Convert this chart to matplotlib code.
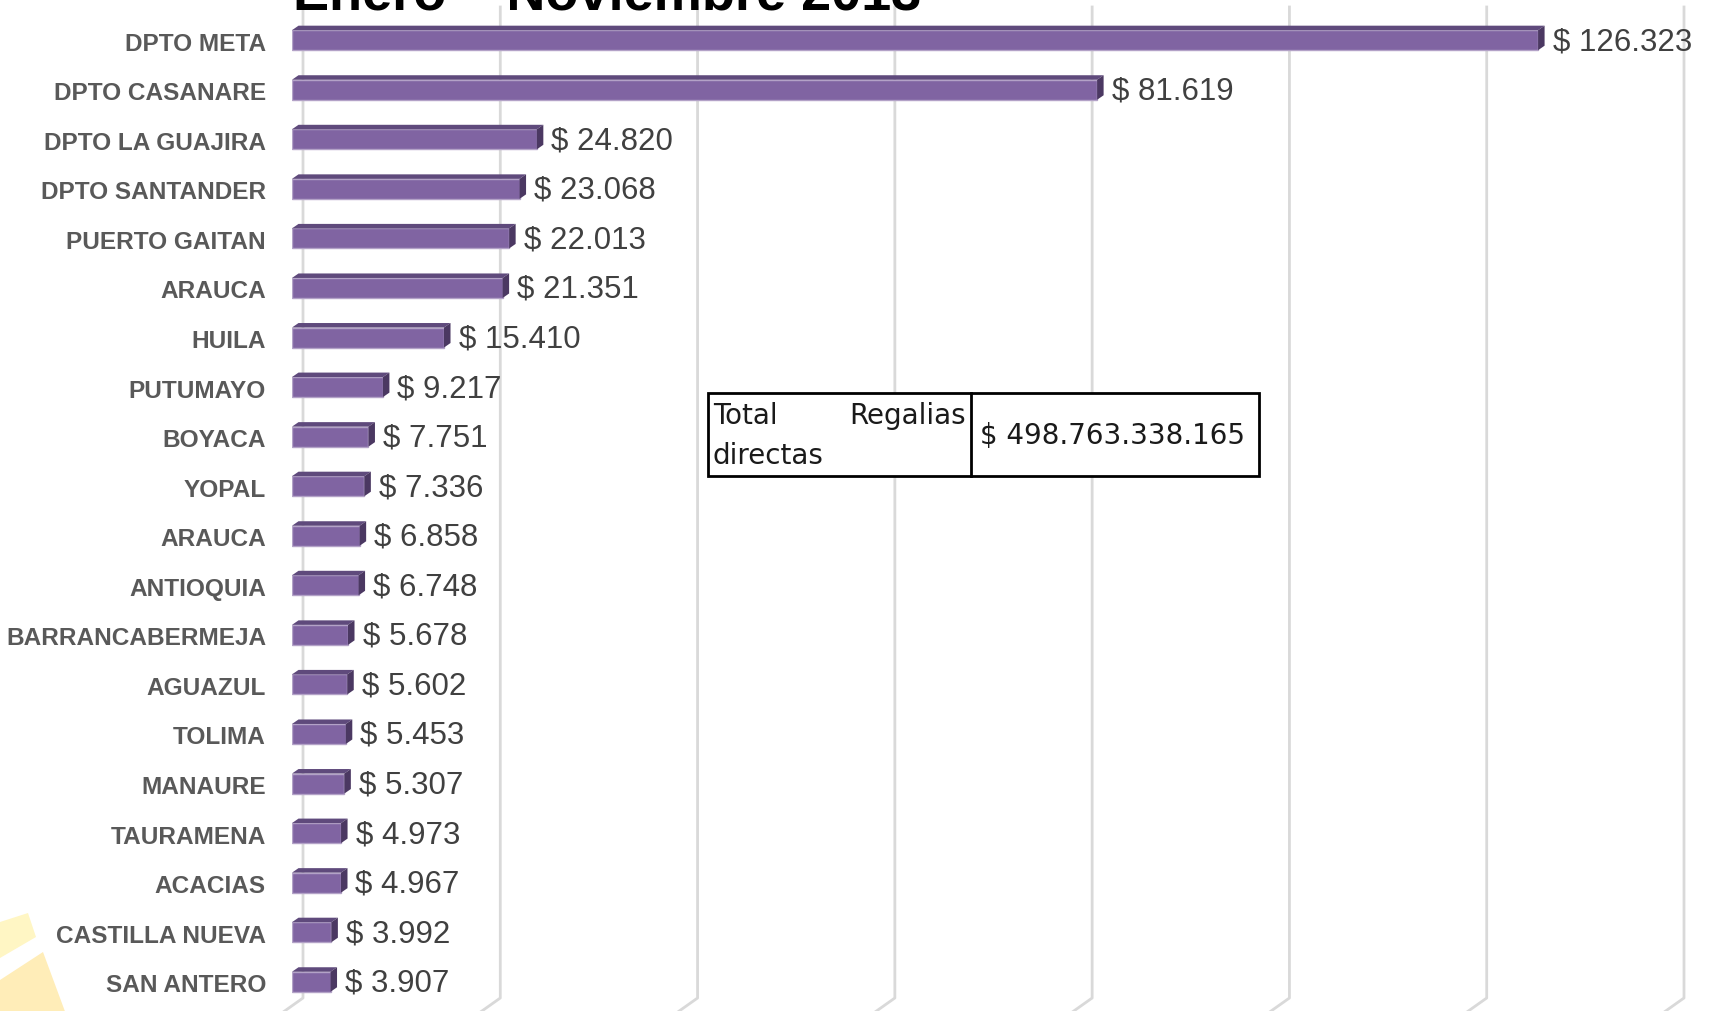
import matplotlib
matplotlib.use("Agg")
import matplotlib.pyplot as plt
from matplotlib.patches import Polygon, Rectangle
from matplotlib.transforms import IdentityTransform
import numpy as np

# data (millones de pesos), enero - noviembre
categorias = ["DPTO META", "DPTO CASANARE", "DPTO LA GUAJIRA", "DPTO SANTANDER",
              "PUERTO GAITAN", "ARAUCA", "HUILA", "PUTUMAYO", "BOYACA", "YOPAL",
              "ARAUCA", "ANTIOQUIA", "BARRANCABERMEJA", "AGUAZUL", "TOLIMA",
              "MANAURE", "TAURAMENA", "ACACIAS", "CASTILLA NUEVA", "SAN ANTERO"]
valores = [126.323, 81.619, 24.820, 23.068, 22.013, 21.351, 15.410, 9.217,
           7.751, 7.336, 6.858, 6.748, 5.678, 5.602, 5.453, 5.307, 4.973,
           4.967, 3.992, 3.907]
ticks_x = [0, 20, 40, 60, 80, 100, 120, 140]
titulo = "Enero \u2013 Noviembre 2013"
total_label = ["Total", "Regalias", "directas"]
total_valor = "$ 498.763.338.165"

W, H = 1714, 1011
DPI = 100
FRONT = "#8064a2"
TOP = "#5f4a7c"
SIDE = "#4b3862"
EDGE = "#b3a2c7"
GRID = "#d9d9d9"

plt.rcParams['font.family'] = ['Liberation Sans', 'DejaVu Sans']

fig = plt.figure(figsize=(W / DPI, H / DPI), dpi=DPI)
fig.patch.set_facecolor("white")

# faint yellow watermark in the bottom-left corner
def px(x, y):
    return (x / W, 1 - y / H)

fig.add_artist(Polygon([px(0, 922), px(28, 913), px(36, 937), px(0, 958)],
                       closed=True, transform=fig.transFigure,
                       facecolor="#fff6c4", edgecolor="none", zorder=0))
fig.add_artist(Polygon([px(0, 980), px(43, 952), px(70, 1025), px(0, 1025)],
                       closed=True, transform=fig.transFigure,
                       facecolor="#ffedb8", edgecolor="none", zorder=0))

ax = fig.add_axes([292 / W, 0, 1381 / W, 1])
ax.set_facecolor("none")
ax.set_xlim(ticks_x[0], ticks_x[-1])
ax.set_ylim(19.59, -0.811)
ax.axis("off")

ypos = np.arange(len(categorias))
bar_h = 0.404

# back wall gridlines with a bend on the floor
depth_grid = 11
for v in ticks_x:
    x = ax.transData.transform((v, 0))[0] + depth_grid
    ax.plot([x, x, x - 24], [H - 7, H - 998, H - 1015], color=GRID, lw=2,
            transform=IdentityTransform(), clip_on=False, zorder=1)

# front faces
ax.barh(ypos, valores, height=bar_h, color=FRONT, edgecolor=EDGE,
        linewidth=1, zorder=3)

# top and side faces for the 3d look
dx, dy = 6.5, 4.5
for i, v in enumerate(valores):
    x0, ytop = ax.transData.transform((0, i - bar_h / 2))
    x1, ybot = ax.transData.transform((v, i + bar_h / 2))
    ax.add_patch(Polygon([(x0, ytop), (x1, ytop), (x1 + dx, ytop + dy), (x0 + dx, ytop + dy)],
                         closed=True, transform=IdentityTransform(),
                         facecolor=TOP, edgecolor="none", zorder=4))
    ax.add_patch(Polygon([(x1, ybot), (x1, ytop), (x1 + dx, ytop + dy), (x1 + dx, ybot + dy)],
                         closed=True, transform=IdentityTransform(),
                         facecolor=SIDE, edgecolor="none", zorder=4))
    ax.annotate(f"$ {v:.3f}", xy=(v, i), xytext=(dx + 8, -2),
                textcoords="offset pixels", va="center", ha="left",
                fontsize=22.5, color="#404040", zorder=5)
    # category label on the left
    ax.annotate(categorias[i], xy=(0, i), xytext=(-26, -4),
                textcoords="offset pixels", va="center", ha="right",
                fontsize=17.6, fontweight="bold", color="#595959",
                annotation_clip=False)

# title (cut off at the top of the picture)
fig.text(293 / W, 1 - 9 / H, titulo, fontsize=39, fontweight="bold",
         color="black", va="baseline", ha="left")

# total box
bx0, bx1, bmid = 708, 1259, 971
by0, by1 = 393, 476
fig.add_artist(Rectangle(px(bx0, by1), (bx1 - bx0) / W, (by1 - by0) / H,
                         transform=fig.transFigure, facecolor="white",
                         edgecolor="black", linewidth=2, zorder=6))
fig.add_artist(plt.Line2D([bmid / W, bmid / W], [1 - by0 / H, 1 - by1 / H],
                          transform=fig.transFigure, color="black", lw=2, zorder=7))
tfont = dict(fontsize=20, family="DejaVu Sans", color="#1a1a1a", zorder=8)
fig.text(*px(713, 416), total_label[0], ha="left", va="center", **tfont)
fig.text(*px(966, 416), total_label[1], ha="right", va="center", **tfont)
fig.text(*px(713, 456), total_label[2], ha="left", va="center", **tfont)
fig.text(*px((bmid + bx1) / 2 - 2, 436), total_valor, ha="center", va="center", **tfont)

fig.savefig("out.png", dpi=DPI)
